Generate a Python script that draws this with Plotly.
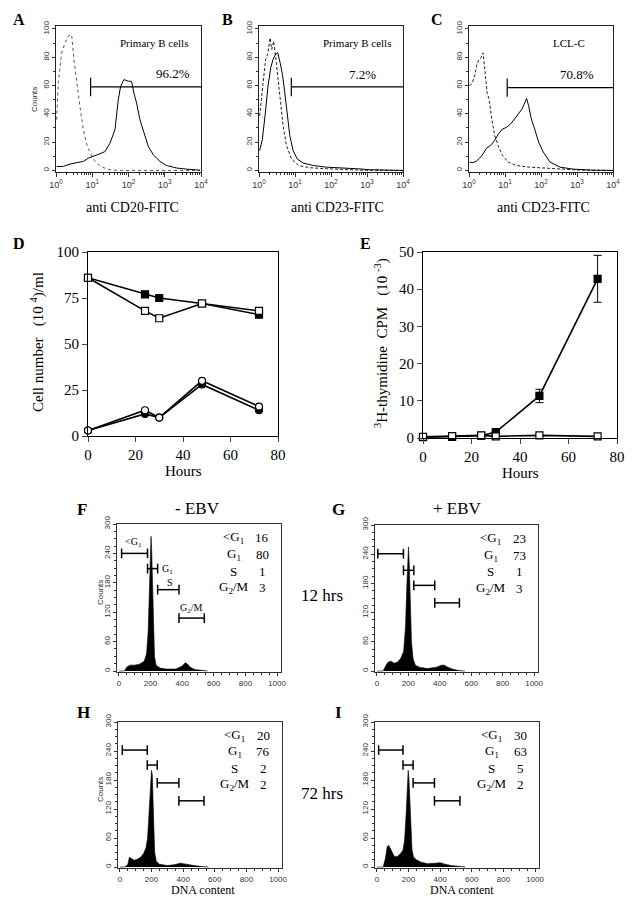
import plotly.graph_objects as go

W, H = 636, 904          # reference picture size
OFF = 8                  # page body margin of the html page
FW, FH = W - OFF, H - OFF
SERIF = "Liberation Serif, Times New Roman, serif"
SANS = "Liberation Sans, Arial, sans-serif"

# ================= DATA =================
# ---- A-C: flow cytometry histograms (x = fluorescence, y = counts) ----
a_ctrl_x = [1.04, 1.16, 1.43, 1.77, 2.19, 2.70, 3.14, 3.72, 4.59, 5.67, 7.31, 10.7, 16.4, 25, 47, 9400]
a_ctrl_y = [36, 62, 83, 90, 95, 96, 78, 62, 45, 29, 17, 8, 3.3, 1, 0, 0]
a_stain_x = [1.04, 1.59, 2.43, 3.72, 5.67, 7.8, 10.7, 16.4, 22.6, 30.9, 42.4, 52.2, 60.6, 74.8,
             98.8, 121.6, 141, 167, 207, 267, 352, 481, 735, 1120, 2140, 4050, 9400]
a_stain_y = [2.8, 2.8, 4.5, 5.2, 6.4, 8.7, 9.9, 11.8, 13.4, 19.3, 28.8, 50, 59.4, 64.2,
             63, 63, 54.7, 47.6, 35.8, 26.4, 17, 11.1, 6.4, 3.5, 1.7, 0.9, 0.2]

b_ctrl_x = [1.04, 1.29, 1.53, 1.78, 2.03, 2.26, 2.56, 2.92, 3.39, 3.94, 4.67, 5.79, 7.98, 12.3,
            25.9, 75.7, 221, 644, 10000]
b_ctrl_y = [38.6, 62, 78.5, 83, 93.7, 85.5, 91.3, 79.6, 64.4, 48, 31.6, 17.6, 8.2, 3.5,
            1.9, 1.2, 0.7, 0.2, 0]
b_stain_x = [1.04, 1.24, 1.47, 1.78, 2.12, 2.46, 2.86, 3.32, 3.86, 4.48, 5.2, 6.04, 7.17, 8.87,
             11.5, 16.9, 32.1, 75.7, 221, 521, 1220, 3600, 10000]
b_stain_y = [14, 22, 38.6, 59.7, 72.6, 78.5, 82, 83.1, 76.1, 67.9, 55, 38.6, 24.6, 14,
             8.2, 5.2, 3.5, 2.3, 1.9, 1.2, 0.5, 0.2, 0]

c_ctrl_x = [1.04, 1.24, 1.47, 1.67, 1.9, 2.16, 2.46, 2.8, 3.18, 3.62, 4.29, 5.2, 6.44, 8.51,
            12.3, 21, 49, 144, 418, 1220, 10000]
c_ctrl_y = [59.7, 62, 67.9, 75, 78.5, 79.6, 83.1, 69, 55, 50.4, 36.3, 24.6, 17.6, 10.5,
            5.9, 3.5, 2.3, 1.6, 0.9, 0.2, 0]
c_stain_x = [1.04, 1.29, 1.6, 1.98, 2.46, 3.05, 3.94, 5.09, 6.58, 8.51, 11, 14.2, 18.4, 23.8,
             29.4, 34.2, 39.8, 45.4, 53.9, 66.7, 86.1, 116, 178, 340, 800, 2900, 10000]
c_stain_y = [5.9, 5.4, 6.6, 8.7, 11.7, 15.7, 17.6, 21, 25.8, 29.3, 30.4, 32.8, 36.3, 39.8,
             43.3, 46.8, 50.8, 45.7, 36.3, 29.3, 19.9, 12.9, 5.9, 2.3, 0.9, 0.2, 0]

flow_gate_lo = [9.0, 7.9, 11.5]
flow_gate_hi = [10000, 10000, 10000]
flow_gate_y = [59, 59, 58.5]
flow_pct = ["96.2%", "7.2%", "70.8%"]
flow_sample = ["Primary B cells", "Primary B cells", "LCL-C"]
flow_xtitle = ["anti CD20-FITC", "anti CD23-FITC", "anti CD23-FITC"]
flow_tickvals = [1, 10, 100, 1000, 10000]
flow_ticktext = ["10<sup>0</sup>", "10<sup>1</sup>", "10<sup>2</sup>", "10<sup>3</sup>", "10<sup>4</sup>"]

# ---- D: cell number ----
d_hours = [0, 24, 30, 48, 72]
d_sq_filled = [86, 77, 75, 72, 66]
d_sq_open = [86, 68, 64, 72, 68]
d_ci_filled = [3, 12, 10, 28, 14]
d_ci_open = [3, 14, 10, 30, 16]

# ---- E: 3H-thymidine ----
e_hours = [0, 12, 24, 30, 48, 72]
e_filled = [0.2, 0.3, 0.6, 1.6, 11.3, 42.8]
e_filled_err = [0, 0, 0, 0, 1.8, 6.3]
e_open = [0.3, 0.5, 0.7, 0.45, 0.7, 0.45]

# ---- F-I: DNA content histograms ----
f_x = [0, 35, 50, 70, 100, 130, 160, 175, 185, 192, 198, 203, 207, 212, 218, 225, 235, 260, 300,
       360, 400, 420, 435, 450, 480, 520, 560]
f_y = [0, 0, 8, 12, 12, 14, 20, 35, 80, 160, 240, 275, 250, 180, 90, 30, 12, 6, 4,
       4, 10, 17, 14, 8, 3, 1, 0]
g_x = [0, 40, 55, 70, 90, 110, 130, 150, 170, 182, 190, 196, 201, 206, 212, 220, 230, 245, 270,
       320, 380, 410, 430, 450, 480, 520, 560]
g_y = [0, 0, 10, 18, 20, 16, 18, 25, 40, 90, 170, 230, 255, 220, 140, 60, 25, 12, 8,
       5, 8, 12, 12, 8, 4, 1, 0]
h_x = [0, 30, 50, 60, 70, 90, 110, 130, 150, 165, 175, 185, 195, 200, 205, 210, 215, 220, 230,
       250, 300, 350, 380, 400, 430, 470, 520, 560]
h_y = [0, 0, 5, 20, 18, 14, 16, 20, 28, 40, 60, 110, 180, 200, 190, 150, 80, 30, 12,
       6, 3, 5, 8, 7, 5, 3, 1, 0]
i_x = [0, 40, 55, 65, 75, 90, 110, 130, 150, 165, 175, 185, 192, 198, 203, 208, 215, 222, 232,
       250, 280, 320, 370, 400, 430, 470, 530, 560]
i_y = [0, 0, 20, 42, 45, 35, 22, 22, 28, 35, 55, 110, 170, 200, 180, 130, 70, 35, 20,
       15, 10, 7, 8, 9, 6, 3, 1, 0]

phase_names = ["&lt;G<sub>1</sub>", "G<sub>1</sub>", "S", "G<sub>2</sub>/M"]
f_pct = [16, 80, 1, 3]
g_pct = [23, 73, 1, 3]
h_pct = [20, 76, 2, 2]
i_pct = [30, 63, 5, 2]

f_gate_lo = [17, 181, 245, 380]
f_gate_hi = [181, 245, 380, 540]
f_gate_y = [240, 209, 166, 108]
g_gate_lo = [6, 169, 235, 368]
g_gate_hi = [169, 235, 368, 525]
g_gate_y = [241, 207, 176, 140]
h_gate_lo = [15, 173, 236, 373]
h_gate_hi = [173, 236, 373, 532]
h_gate_y = [242, 211, 174, 137]
i_gate_lo = [11, 165, 229, 364]
i_gate_hi = [165, 229, 364, 525]
i_gate_y = [242, 211, 174, 137]

dna_tickvals_x = [0, 200, 400, 600, 800, 1000]
dna_tickvals_y = [0, 60, 120, 180, 240, 300]

# ================= FIGURE =================
fig = go.Figure()
layout = {}
anns = []


def xd(l, r):
    return [(l - OFF) / FW, (r - OFF) / FW]


def yd(t, b):
    return [1 - (b - OFF) / FH, 1 - (t - OFF) / FH]


def add_axes(n, xdom, ydom, xkw, ykw):
    xk = 'xaxis' if n == 1 else f'xaxis{n}'
    yk = 'yaxis' if n == 1 else f'yaxis{n}'
    xa = 'x' if n == 1 else f'x{n}'
    ya = 'y' if n == 1 else f'y{n}'
    layout[xk] = dict(domain=xdom, anchor=ya, automargin=False, **xkw)
    layout[yk] = dict(domain=ydom, anchor=xa, automargin=False, **ykw)
    return xa, ya


def ann(x, y, text, size, family=SERIF, bold=False, angle=0, color='black', xanchor='center'):
    anns.append(dict(x=(x - OFF) / FW, y=1 - (y - OFF) / FH, xref='paper', yref='paper',
                     text=f'<b>{text}</b>' if bold else text, showarrow=False,
                     font=dict(family=family, size=size, color=color), textangle=angle,
                     xanchor=xanchor, yanchor='middle'))


def frame(lw=1.0, color='black'):
    return dict(showline=True, mirror=True, linecolor=color, linewidth=lw,
                showgrid=False, zeroline=False)


# ---------- A-C ----------
flow_minor = [k * 10 ** d for d in range(4) for k in range(2, 10)]
flow_xdom = [(56, 201), (259, 403), (469, 613)]
flow_ydom = (25.5, 172)
flow_ctrl = [(a_ctrl_x, a_ctrl_y), (b_ctrl_x, b_ctrl_y), (c_ctrl_x, c_ctrl_y)]
flow_stain = [(a_stain_x, a_stain_y), (b_stain_x, b_stain_y), (c_stain_x, c_stain_y)]
ctrl_dash = ['dot', '3px,2px', '3px,2px']
ctrl_color = ['#555', '#222', '#222']
letter_pos = [(19, 20), (227, 20), (437, 20)]
sample_pos = [(154, 43), (357, 43), (569, 43)]
pct_pos = [(173, 73), (362, 74), (577, 75)]
xtitle_pos = [(132, 207), (337, 207), (543, 207)]

for i in range(3):
    xkw = dict(type='log', range=[0, 4], tickmode='array', tickvals=flow_tickvals,
               ticktext=flow_ticktext, ticks='outside', ticklen=4, tickcolor='#333',
               tickfont=dict(family=SANS, size=9, color='#333'),
               minor=dict(tickvals=flow_minor, ticks='outside', ticklen=2, tickcolor='#333'),
               **frame(1.0, '#222'))
    ykw = dict(range=[-1.1, 102.4], tickmode='array', tickvals=[0, 20, 40, 60, 80, 100],
               tickangle=-90, ticks='outside', ticklen=3, tickcolor='#333',
               tickfont=dict(family=SANS, size=8, color='#333'),
               minor=dict(tickmode='linear', tick0=0, dtick=10, ticks='outside', ticklen=2,
                          tickcolor='#333'),
               **frame(1.0, '#222'))
    xa, ya = add_axes(i + 1, xd(*flow_xdom[i]), yd(*flow_ydom), xkw, ykw)
    cx, cy = flow_ctrl[i]
    sx, sy = flow_stain[i]
    fig.add_trace(go.Scatter(x=cx, y=cy, xaxis=xa, yaxis=ya, mode='lines',
                             line=dict(color=ctrl_color[i], width=1, dash=ctrl_dash[i])))
    fig.add_trace(go.Scatter(x=sx, y=sy, xaxis=xa, yaxis=ya, mode='lines',
                             line=dict(color='black', width=1)))
    # gate marker
    fig.add_trace(go.Scatter(x=[flow_gate_lo[i], flow_gate_hi[i]],
                             y=[flow_gate_y[i], flow_gate_y[i]], xaxis=xa, yaxis=ya,
                             mode='lines', line=dict(color='black', width=1.2)))
    fig.add_trace(go.Scatter(x=[flow_gate_lo[i], flow_gate_lo[i]],
                             y=[flow_gate_y[i] - 6.5, flow_gate_y[i] + 6.5], xaxis=xa, yaxis=ya,
                             mode='lines', line=dict(color='black', width=1.2)))
    ann(*letter_pos[i], ['A', 'B', 'C'][i], 16, bold=True)
    ann(*sample_pos[i], flow_sample[i], 11)
    ann(*pct_pos[i], flow_pct[i], 13)
    ann(*xtitle_pos[i], flow_xtitle[i], 14)
ann(35, 100, 'Counts', 8, family=SANS, angle=-90, color='#333')

# ---------- D ----------
de_font = dict(family=SERIF, size=15, color='black')
xkw = dict(range=[0, 80], tickmode='array', tickvals=[0, 20, 40, 60, 80], ticks='outside',
           ticklen=5, tickwidth=1.2, tickfont=de_font, **frame(1.2))
ykw = dict(range=[0, 100], tickmode='array', tickvals=[0, 25, 50, 75, 100], ticks='outside',
           ticklen=5, tickwidth=1.2, tickfont=de_font, **frame(1.2))
xa, ya = add_axes(4, xd(88, 278), yd(252, 436), xkw, ykw)


def series(x, y, xa, ya, symbol, filled, err=None):
    kw = {}
    if err is not None:
        kw['error_y'] = dict(type='data', array=err, visible=True, color='black',
                             thickness=1, width=4)
    fig.add_trace(go.Scatter(
        x=x, y=y, xaxis=xa, yaxis=ya, mode='lines+markers', cliponaxis=False,
        line=dict(color='black', width=1.6),
        marker=dict(symbol=symbol, size=7, color='black' if filled else 'white',
                    line=dict(color='black', width=1.2)), **kw))


series(d_hours, d_sq_filled, xa, ya, 'square', True)
series(d_hours, d_sq_open, xa, ya, 'square', False)
series(d_hours, d_ci_filled, xa, ya, 'circle', True)
series(d_hours, d_ci_open, xa, ya, 'circle', False)
ann(19, 243, 'D', 16, bold=True)
ann(37, 342, 'Cell number &nbsp; (10 <sup>4</sup>)/ml', 15, angle=-90)
ann(183, 471, 'Hours', 15)

# ---------- E ----------
xkw = dict(range=[0, 80], tickmode='array', tickvals=[0, 20, 40, 60, 80], ticks='outside',
           ticklen=5, tickwidth=1.2, tickfont=de_font, **frame(1.2))
ykw = dict(range=[0, 50], tickmode='array', tickvals=[0, 10, 20, 30, 40, 50], ticks='outside',
           ticklen=5, tickwidth=1.2, tickfont=de_font, **frame(1.2))
xa, ya = add_axes(5, xd(423, 617), yd(252, 438), xkw, ykw)
series(e_hours, e_filled, xa, ya, 'square', True, err=e_filled_err)
series(e_hours, e_open, xa, ya, 'square', False)
ann(365, 243, 'E', 16, bold=True)
ann(381, 343, '<sup>3</sup>H-thymidine &nbsp;CPM &nbsp; (10 <sup>-3</sup>)', 15, angle=-90)
ann(520, 473, 'Hours', 15)

# ---------- F-I ----------
dna_panels = [
    ('F', (117, 281), (524, 672), f_x, f_y, f_pct, f_gate_lo, f_gate_hi, f_gate_y, (82, 510)),
    ('G', (375, 538), (525, 672), g_x, g_y, g_pct, g_gate_lo, g_gate_hi, g_gate_y, (338, 510)),
    ('H', (118, 282), (722, 868), h_x, h_y, h_pct, h_gate_lo, h_gate_hi, h_gate_y, (83, 712)),
    ('I', (375, 539), (722, 868), i_x, i_y, i_pct, i_gate_lo, i_gate_hi, i_gate_y, (338, 712)),
]
stat_rows_y = [272, 238, 204, 170]
cap = 10
for k, (letter, xdom_, ydom_, hx, hy, pct, glo, ghi, gy, lpos) in enumerate(dna_panels):
    n = 6 + k
    xkw = dict(range=[-12, 1025], tickmode='array', tickvals=dna_tickvals_x, ticks='outside',
               ticklen=3, tickcolor='#333', tickfont=dict(family=SANS, size=8, color='#333'),
               minor=dict(tickmode='linear', tick0=0, dtick=50, ticks='outside', ticklen=2,
                          tickcolor='#333'),
               **frame(1.0, '#333'))
    ykw = dict(range=[-2, 300], tickmode='array', tickvals=dna_tickvals_y, tickangle=-90,
               ticks='outside', ticklen=3, tickcolor='#333',
               tickfont=dict(family=SANS, size=8, color='#333'),
               minor=dict(tickmode='linear', tick0=0, dtick=15, ticks='outside', ticklen=2,
                          tickcolor='#333'),
               **frame(1.0, '#333'))
    xa, ya = add_axes(n, xd(*xdom_), yd(*ydom_), xkw, ykw)
    fig.add_trace(go.Scatter(x=hx, y=hy, xaxis=xa, yaxis=ya, mode='lines', fill='tozeroy',
                             fillcolor='black', line=dict(color='black', width=0.6)))
    gx, gyy = [], []
    for lo, hi, yv in zip(glo, ghi, gy):
        gx += [lo, lo, None, lo, hi, None, hi, hi, None]
        gyy += [yv - cap, yv + cap, None, yv, yv, None, yv - cap, yv + cap, None]
    fig.add_trace(go.Scatter(x=gx, y=gyy, xaxis=xa, yaxis=ya, mode='lines',
                             line=dict(color='black', width=1.5)))
    for name, val, ry in zip(phase_names, pct, stat_rows_y):
        anns.append(dict(x=725, y=ry, xref=xa, yref=ya, text=name, showarrow=False,
                         font=dict(family=SERIF, size=13, color='black'),
                         xanchor='center', yanchor='middle'))
        anns.append(dict(x=905, y=ry, xref=xa, yref=ya, text=str(val), showarrow=False,
                         font=dict(family=SERIF, size=13, color='black'),
                         xanchor='center', yanchor='middle'))
    ann(*lpos, letter, 17, bold=True)
    if letter == 'F':
        for name, (lx, ly) in zip(phase_names, [(95, 262), (307, 207), (323, 180), (460, 128)]):
            anns.append(dict(x=lx, y=ly, xref=xa, yref=ya, text=name, showarrow=False,
                             font=dict(family=SERIF, size=10, color='black'),
                             xanchor='center', yanchor='middle'))

ann(197, 508, '- EBV', 17)
ann(458, 508, '+ EBV', 17)
ann(322, 595, '12 hrs', 17)
ann(322, 793, '72 hrs', 17)
ann(100, 593, 'Counts', 8, family=SANS, angle=-90, color='#333')
ann(100, 790, 'Counts', 8, family=SANS, angle=-90, color='#333')
ann(203, 890, 'DNA content', 12)
ann(462, 890, 'DNA content', 12)

fig.update_layout(template='none', width=FW, height=FH, margin=dict(l=0, r=0, t=0, b=0),
                  paper_bgcolor='white', plot_bgcolor='white', showlegend=False,
                  font=dict(family=SERIF, color='black'),
                  annotations=anns, **layout)
fig.write_html("out.html")
